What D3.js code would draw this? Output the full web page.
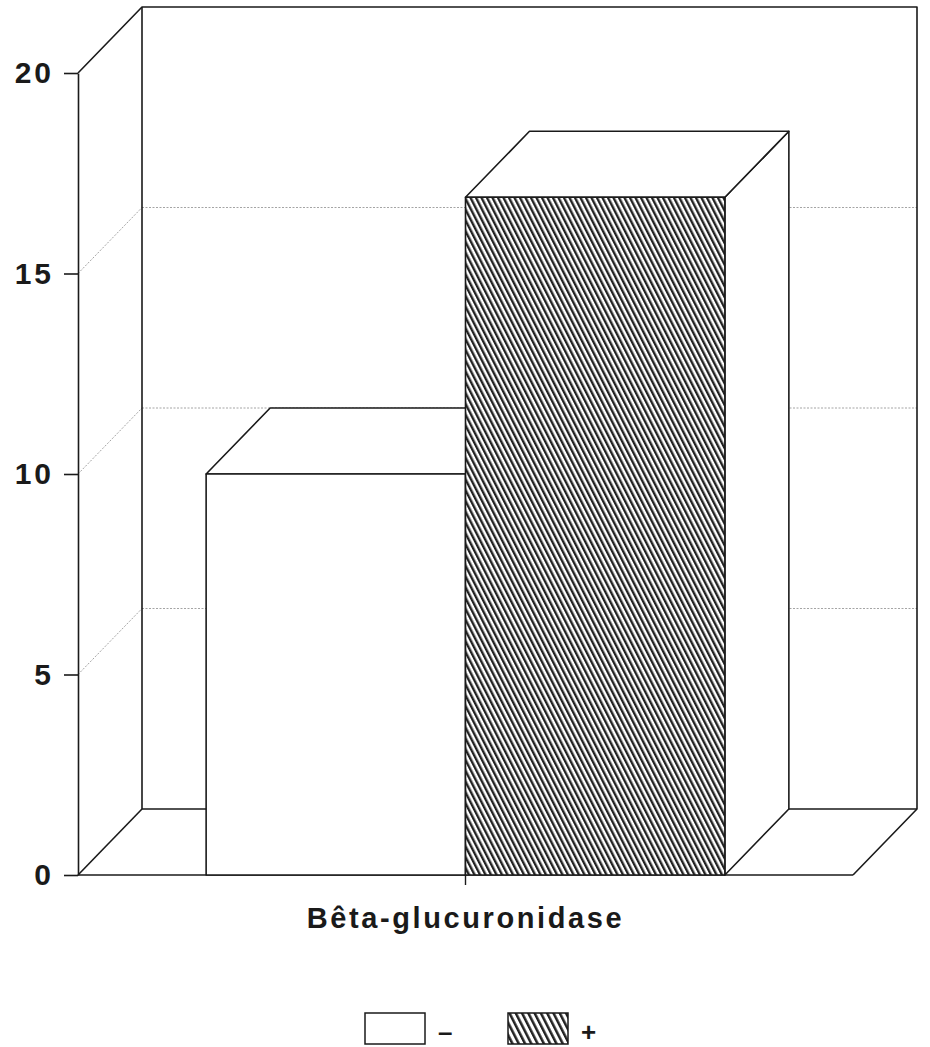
<!DOCTYPE html>
<html>
<head>
<meta charset="utf-8">
<script src="https://cdn.jsdelivr.net/npm/d3@7"></script>
<style>
  html, body { margin: 0; padding: 0; background: #fff; }
  svg { display: block; }
  text { font-family: "Liberation Sans", Arial, Helvetica, sans-serif; fill: #1a1a1a; }
</style>
</head>
<body>
<svg id="chart" width="930" height="1047"></svg>
<script>
// Data
const categories = ["Bêta-glucuronidase"];
const seriesNames = ["–", "+"];
const seriesValues = [10, 16.9];
const yTicks = [0, 5, 10, 15, 20];

const W = 930, H = 1047;
const svg = d3.select("#chart");

// Front plane and depth of the 3D box
const front = { left: 78, right: 853, top: 73, bottom: 875 };
const depth = { dx: 64, dy: -66 };

const y = d3.scaleLinear().domain([0, 20]).range([front.bottom, front.top]);
const x0 = d3.scaleBand().domain(categories).range([front.left, front.right])
  .paddingInner(0).paddingOuter(0.247);
const x1 = d3.scaleBand().domain(seriesNames).range([0, x0.bandwidth()]);

const ink = "#1a1a1a";
const defs = svg.append("defs");
function hatch(id, period, width) {
  const p = defs.append("pattern")
    .attr("id", id).attr("patternUnits", "userSpaceOnUse")
    .attr("width", period).attr("height", 10)
    .attr("patternTransform", "rotate(-27)");
  p.append("rect").attr("width", period).attr("height", 10).attr("fill", "#fff");
  p.append("rect").attr("width", width).attr("height", 10).attr("fill", "#222");
}
hatch("hatch", 4.9, 2.4);
hatch("hatchLegend", 5.6, 2.5);
const fills = { "–": "#fff", "+": "url(#hatch)" };
const legendFills = { "–": "#fff", "+": "url(#hatchLegend)" };

const line = d3.line();
const D = (p) => [p[0] + depth.dx, p[1] + depth.dy];

// Walls and floor
const g = svg.append("g");
const bl = [front.left, y(0)], tl = [front.left, y(20)];
const br = [front.right, y(0)];
const backTop = D(tl), backBottom = D(bl), backRightBottom = D(br);
const backRightTop = [backRightBottom[0], backTop[1]];

// Gridlines: side wall diagonals (dotted) and back wall lines
const grid = g.append("g").attr("stroke", "#9a9a9a").attr("stroke-width", 0.9)
  .attr("stroke-dasharray", "2,1.5").attr("fill", "none");
yTicks.filter(v => v > 0 && v < 20).forEach(v => {
  const a = [front.left, y(v)], b = D(a);
  grid.append("path").attr("d", line([a, b]));
  grid.append("path").attr("d", line([b, [backRightBottom[0], b[1]]]));
});

const frame = g.append("g").attr("stroke", ink).attr("stroke-width", 1.6).attr("fill", "none")
  .attr("stroke-linejoin", "round");
frame.append("path").attr("d", line([tl, backTop, backRightTop, backRightBottom, br]));
frame.append("path").attr("d", line([backTop, backBottom, backRightBottom]));
frame.append("path").attr("d", line([bl, backBottom]));
frame.append("path").attr("d", line([bl, br]));

// Bars (front face, top, right side)
const bars = g.append("g").attr("stroke", ink).attr("stroke-width", 1.6).attr("stroke-linejoin", "round");
seriesNames.forEach((s, i) => {
  const xl = x0(categories[0]) + x1(s), xr = xl + x1.bandwidth();
  const yt = y(seriesValues[i]), yb = y(0);
  const ftl = [xl, yt], ftr = [xr, yt], fbr = [xr, yb], fbl = [xl, yb];
  bars.append("path").attr("fill", "#fff").attr("d", line([ftr, D(ftr), D(fbr), fbr]) + "Z");
  bars.append("path").attr("fill", "#fff").attr("d", line([ftl, D(ftl), D(ftr), ftr]) + "Z");
  bars.append("path").attr("fill", fills[s]).attr("d", line([ftl, ftr, fbr, fbl]) + "Z");
});

// Y axis
const yAxis = svg.append("g").attr("transform", `translate(${front.left},0)`)
  .call(d3.axisLeft(y).tickValues(yTicks).tickSize(14).tickSizeOuter(0).tickPadding(10));
yAxis.select(".domain").attr("stroke", ink).attr("stroke-width", 1.6);
yAxis.selectAll(".tick line").attr("stroke", ink).attr("stroke-width", 1.6);
yAxis.selectAll(".tick text").attr("font-size", 30).attr("font-weight", "bold")
  .attr("letter-spacing", "3px").attr("fill", ink).attr("x", -24)
  .style("font-family", '"Liberation Sans", Arial, sans-serif');

// X axis
const xAxis = svg.append("g").attr("transform", `translate(0,${front.bottom})`)
  .call(d3.axisBottom(x0).tickSize(10).tickSizeOuter(0).tickPadding(22));
xAxis.select(".domain").remove();
xAxis.selectAll(".tick line").attr("stroke", ink).attr("stroke-width", 1.4);
xAxis.selectAll(".tick text").attr("font-size", 29).attr("font-weight", "bold")
  .attr("letter-spacing", "2.6px").attr("fill", ink)
  .style("font-family", '"Liberation Sans", Arial, sans-serif');

// Legend
const legend = svg.append("g").attr("transform", "translate(365,1013)");
seriesNames.forEach((s, i) => {
  const item = legend.append("g").attr("transform", `translate(${i * 143},0)`);
  item.append("rect").attr("width", 60).attr("height", 31)
    .attr("fill", legendFills[s]).attr("stroke", ink).attr("stroke-width", 1.5);
  item.append("text").attr("x", 73).attr("y", 28).attr("font-size", 26)
    .attr("font-weight", "bold").text(s);
});
</script>
</body>
</html>
